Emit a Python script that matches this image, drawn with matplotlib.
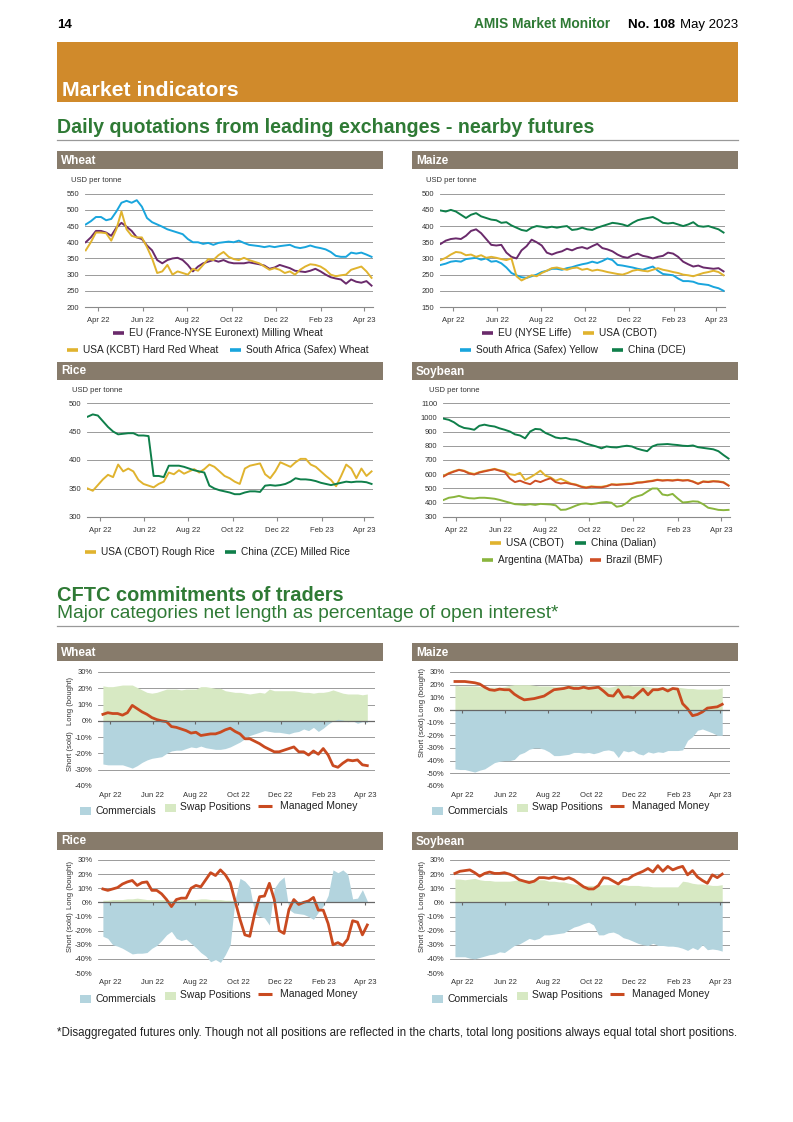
import numpy as np
import pandas as pd
import matplotlib
matplotlib.use('Agg')
from matplotlib import pyplot as plt
from matplotlib.patches import Rectangle
from matplotlib.lines import Line2D

plt.rcParams['font.family'] = ['Liberation Sans', 'DejaVu Sans']

# ---- daily quotations, USD per tonne
price_dates = pd.date_range('2022-03-15', periods=57, freq='7D')

wheat_eu = [400, 415, 435, 435, 430, 420, 445, 460, 448, 435, 415, 410, 390, 375, 345, 335, 345, 350, 352, 345,
            330, 310, 325, 335, 340, 345, 340, 345, 338, 335, 335, 335, 338, 335, 332, 328, 318, 322, 330, 325,
            320, 312, 310, 308, 312, 318, 310, 300, 292, 288, 285, 272, 285, 278, 275, 280, 266]
wheat_usa = [375, 400, 430, 430, 428, 405, 440, 495, 440, 420, 415, 415, 385, 350, 305, 310, 330, 300, 310, 305,
             300, 318, 312, 330, 348, 345, 360, 370, 355, 348, 345, 352, 345, 340, 335, 325, 315, 320, 315, 305,
             310, 300, 315, 325, 332, 330, 325, 315, 300, 295, 298, 300, 315, 320, 325, 310, 290]
wheat_sa = [455, 465, 478, 478, 468, 472, 495, 522, 528, 522, 530, 510, 475, 462, 455, 448, 440, 435, 430, 425,
            410, 400, 400, 395, 398, 392, 398, 400, 402, 400, 405, 398, 392, 390, 388, 385, 388, 385, 388, 390,
            392, 385, 382, 385, 390, 385, 382, 378, 370, 358, 355, 355, 368, 365, 368, 362, 355]

maize_eu = [345, 355, 360, 362, 360, 370, 385, 390, 378, 360, 342, 340, 342, 318, 305, 300, 325, 338, 358, 350,
            340, 318, 312, 318, 322, 330, 325, 332, 335, 330, 338, 345, 332, 328, 322, 312, 305, 302, 310, 315,
            308, 305, 300, 305, 308, 318, 315, 305, 290, 282, 275, 278, 272, 270, 268, 270, 260]
maize_usa = [295, 302, 312, 320, 318, 310, 312, 305, 310, 302, 305, 302, 298, 295, 300, 245, 232, 240, 248, 245,
             255, 262, 270, 272, 268, 265, 270, 272, 265, 268, 262, 265, 262, 258, 255, 252, 250, 255, 262, 265,
             262, 260, 265, 270, 265, 262, 258, 255, 250, 248, 245, 250, 255, 258, 262, 258, 248]
maize_sa = [280, 284, 290, 292, 290, 298, 300, 302, 296, 300, 290, 292, 285, 272, 255, 248, 242, 240, 245, 250,
            258, 262, 268, 268, 265, 270, 273, 278, 282, 285, 290, 286, 292, 300, 295, 280, 278, 275, 272, 268,
            265, 270, 275, 262, 252, 250, 248, 238, 230, 230, 228, 222, 220, 218, 212, 208, 200]
maize_cn = [448, 445, 450, 445, 435, 425, 435, 440, 430, 425, 420, 418, 410, 412, 402, 395, 388, 385, 395, 400,
            398, 395, 398, 395, 398, 400, 388, 390, 395, 390, 388, 395, 400, 405, 410, 408, 405, 400, 410, 418,
            422, 425, 428, 420, 410, 408, 410, 405, 400, 405, 412, 400, 398, 400, 395, 390, 380]

rice_usa = [350, 346, 356, 366, 374, 370, 392, 380, 385, 380, 365, 358, 355, 352, 358, 362, 378, 375, 382, 376,
            380, 384, 378, 384, 392, 388, 380, 372, 368, 362, 358, 385, 390, 392, 394, 375, 368, 380, 396, 392,
            388, 396, 402, 402, 392, 388, 380, 372, 365, 354, 372, 392, 385, 368, 385, 372, 380]
rice_cn = [476, 480, 478, 468, 458, 450, 445, 446, 447, 447, 443, 443, 442, 372, 372, 370, 390, 390, 390, 388,
           385, 382, 380, 378, 355, 350, 347, 345, 343, 340, 340, 343, 345, 345, 344, 355, 356, 355, 356, 358,
           362, 368, 366, 366, 365, 363, 360, 358, 356, 358, 360, 362, 361, 362, 362, 361, 358]

soy_usa = [590, 608, 622, 632, 625, 610, 602, 615, 624, 630, 638, 628, 620, 600, 595, 610, 560, 578, 600, 625,
           590, 578, 555, 568, 552, 535, 528, 515, 508, 515, 512, 512, 518, 530, 528, 530, 533, 535, 543, 545,
           550, 555, 562, 558, 560, 558, 562, 558, 560, 550, 535, 550, 548, 552, 550, 545, 522]
soy_cn = [990, 982, 965, 940, 925, 920, 912, 940, 948, 940, 935, 922, 912, 900, 880, 872, 852, 900, 918, 915,
          890, 875, 858, 852, 855, 845, 842, 830, 815, 805, 795, 782, 795, 790, 788, 795, 800, 795, 780, 770,
          762, 795, 808, 810, 812, 808, 805, 800, 798, 802, 790, 785, 780, 775, 762, 735, 710]
soy_ar = [420, 435, 440, 448, 438, 432, 430, 435, 435, 432, 428, 420, 410, 400, 390, 388, 385, 390, 385, 392,
          390, 388, 382, 350, 352, 365, 380, 392, 395, 390, 395, 402, 405, 400, 372, 378, 400, 432, 445, 455,
          478, 500, 500, 458, 452, 462, 430, 402, 405, 410, 408, 390, 365, 358, 350, 348, 350]
soy_br = [585, 605, 618, 630, 622, 605, 598, 612, 620, 628, 635, 625, 615, 570, 545, 555, 540, 530, 555, 545,
          560, 572, 545, 535, 540, 532, 525, 512, 505, 512, 510, 508, 515, 528, 525, 528, 530, 532, 540, 542,
          548, 552, 560, 555, 558, 555, 560, 555, 558, 548, 532, 548, 545, 550, 548, 542, 520]

# ---- CFTC net length, % of open interest (weekly)
cot_dates = pd.date_range('2022-03-22', periods=55, freq='7D')

wheat_comm = [-26.5, -27, -27, -27, -27, -28, -29, -27.5, -25.5, -24, -23, -22.5, -22, -20, -18.5, -18, -18, -17,
              -16, -16.5, -15.5, -16.5, -17, -17.5, -17.5, -17, -16, -14.5, -13, -11, -9, -8, -7, -6, -6.5, -7,
              -7, -7.5, -8, -7, -6.5, -5, -6, -4, -6.5, -4.5, -2, 0, 1, 0.5, -0.5, 0, -1.5, -0.5, -1]
wheat_swap = [21.5, 21, 21, 21.5, 22, 22, 22, 20.5, 19, 17.5, 17, 17.5, 18.5, 19.5, 19.5, 19.5, 19, 19.5, 19.5,
              19.5, 21, 21, 20.5, 20, 20, 18.5, 18, 17.5, 17.5, 17, 16.5, 17, 17.5, 17, 19.5, 18.5, 18.5, 18.5,
              18.5, 18.5, 18, 17.5, 17.5, 17, 17.5, 17.5, 18, 19, 18, 17, 16.5, 16.5, 16.5, 16, 16.5]
wheat_mm = [4, 5, 4.5, 4.5, 3.5, 5, 9.5, 7.5, 5.5, 4, 2, 0.8, 0, -0.5, -3.5, -4, -5, -6, -7.5, -7, -9, -8.5, -8,
            -8, -7, -5.5, -4.5, -6.5, -8, -11, -11, -12.5, -14, -16, -17.5, -19, -19, -18, -17, -16, -19, -19,
            -21, -18.5, -20.5, -17, -21, -27.5, -28.5, -26, -24, -24.5, -24, -27, -27.5]

maize_comm = [-46.5, -47, -47, -48, -49, -47.5, -46.5, -44, -41.5, -40.5, -40, -40, -39, -35, -33.5, -31, -30, -30,
              -31, -33, -36, -36, -35.5, -35, -33.5, -33.5, -34, -33.5, -34.5, -33.5, -32, -31.5, -32.5, -37.5,
              -32, -33, -32, -34.5, -35.5, -33, -34, -33, -33.5, -32, -32, -32, -31.5, -24, -21, -16, -15, -16.5,
              -18, -20, -20]
maize_swap = [19.5, 19, 19, 19, 19, 18.5, 18, 18, 18, 18, 18.5, 19.5, 20, 20, 20, 20, 19.5, 19, 19, 19, 18.5,
              18.5, 19, 19.5, 19.5, 19, 19, 19, 19, 19, 18.5, 18, 18.5, 19.5, 19.5, 19.5, 19, 19, 19, 18.5, 18,
              18, 18, 18, 18, 18, 17.5, 17, 17, 16.5, 16.5, 16.5, 16.5, 16.5, 17.5]
maize_mm = [22.5, 22.5, 22.5, 22, 21.5, 20.5, 18, 16, 15.5, 16.5, 16, 16, 12.5, 10, 8, 8.5, 9, 10, 11, 13.5, 16,
            16.5, 17, 18, 17, 17, 18, 17, 17.5, 18, 15, 11.5, 11, 16, 10, 10.5, 9.5, 13, 16.5, 12, 16, 16, 17,
            15, 17, 16.5, 5, 1, -4.5, -3.5, -1.5, 1.5, 2, 2.5, 4.5]

rice_comm = [-24, -25.5, -30, -31, -32.5, -34.5, -36.5, -36, -36, -35.5, -32.5, -30.5, -27, -23, -20.5, -25.5,
             -27, -26, -29, -32, -35.5, -38, -42, -40.5, -42.5, -37, -30, 2, 17, 15, 11, -8, -10, -11, -16, 10,
             15, 18, -5, -7.5, -8, -8.5, -10, -12, -7, -2.5, 5, 23, 21, 23, 20, 2.5, 3, 9, 1]
rice_swap = [1.5, 1.5, 2, 2, 2, 2.5, 2.5, 3, 2.5, 2, 2, 2, 2, 2, 1.5, 1.5, 2, 2, 2, 2, 2.5, 2.5, 2, 2, 2, 1.5,
             1.5, 1, 0.5, 0.5, 0.5, 0.5, 0.5, 0.5, 0.5, 0.5, 0.5, 0.5, 0.5, 0.5, 0.5, 0.5, 0.5, 0.5, 0.5, 0.5,
             0.5, 0.5, 0.5, 0.5, 0.5, 0.5, 0.5, 0.5, 0.5]
rice_mm = [9.5, 8.5, 9.5, 10.5, 13, 14.5, 15.5, 12, 14, 14.5, 8.5, 8.5, 6, 2, -3, 2, 3, 3, 10, 12, 11, 16, 21,
           19, 23, 19.5, 14, 1, -12, -23, -24, -8, 4, 4.5, 13.5, 2, -20, -22, -5, 2, -1.5, 0, 1, 3.5, -5.5,
           -5.5, -15, -30, -28.5, -30.5, -26, -13, -14, -23, -16]

soy_comm = [-38.5, -38.5, -38.5, -39.5, -40, -39, -38, -37, -36.5, -35, -35.5, -33, -30.5, -29.5, -27.5, -25.5,
            -26.5, -25.5, -23, -23, -22.5, -22, -21.5, -19.5, -17.5, -16.5, -15, -14, -16, -23, -23, -21.5, -21,
            -22.5, -25, -26, -27.5, -29, -30, -30.5, -29, -30.5, -30.5, -31, -31, -31.5, -32.5, -34, -32, -33.5,
            -30, -33.5, -33, -33.5, -34.5]
soy_swap = [16.5, 16.5, 16, 16.5, 17, 16, 15.5, 15.5, 15, 15, 15, 15, 15.5, 16, 16, 16, 16, 16, 16, 15, 15, 14.5,
            14.5, 13.5, 13, 12.5, 12, 12, 12, 12, 12.5, 12.5, 12.5, 12.5, 12.5, 12, 12, 12, 11.5, 11.5, 11, 11,
            11, 11, 11, 11, 15, 14.5, 13.5, 13, 13, 12.5, 12, 12, 12.5]
soy_mm = [20.5, 22, 22.5, 23, 21, 18.5, 20.5, 21.5, 20.5, 20.5, 21, 20, 18.5, 16, 15, 14, 15, 17.5, 17.5, 17, 18,
          17, 16.5, 17.5, 16, 13.5, 11, 9.5, 9.5, 12, 17.5, 17, 15, 13, 16, 16.5, 19, 20.5, 22, 24, 21.5, 26,
          22, 25.5, 23, 24.5, 25.5, 19.5, 22.5, 18, 15.5, 13.5, 19.5, 17.5, 20]

month_ticks = pd.to_datetime(['2022-04-01', '2022-06-01', '2022-08-01', '2022-10-01',
                              '2022-12-01', '2023-02-01', '2023-04-01'])
month_labels = ['Apr 22', 'Jun 22', 'Aug 22', 'Oct 22', 'Dec 22', 'Feb 23', 'Apr 23']

# colours
ORANGE = '#d08a2b'
BAR = '#877b6b'
GREEN_TXT = '#2f7a35'
PURPLE = '#6a2a6b'
YELLOW = '#e0b32e'
BLUE = '#19a5dd'
DKGREEN = '#0f7f4a'
LTGREEN = '#8ab53e'
RED = '#cf4f26'
COMM = '#b3d4de'
SWAP = '#d7e9c3'
MM = '#c94a20'
GRID = '#8a8a8a'
TXT = '#333333'

W, H = 793, 1122
fig = plt.figure(figsize=(W / 100, H / 100), dpi=100)


def add_ax(x0, y0, x1, y1):
    return fig.add_axes([x0 / W, 1 - y1 / H, (x1 - x0) / W, (y1 - y0) / H])


def ftext(x, y, s, **kw):
    fig.text(x / W, 1 - y / H, s, **kw)


def rect(x0, y0, x1, y1, color):
    fig.patches.append(Rectangle((x0 / W, 1 - y1 / H), (x1 - x0) / W, (y1 - y0) / H,
                                 transform=fig.transFigure, color=color, lw=0))


def hline(x0, x1, y, color, lw):
    fig.add_artist(Line2D([x0 / W, x1 / W], [1 - y / H, 1 - y / H], color=color, lw=lw,
                          transform=fig.transFigure))


def header_bar(x0, y0, x1, y1, label):
    rect(x0, y0, x1, y1, BAR)
    ftext(x0 + 4, (y0 + y1) / 2 + 0.5, label, color='white', fontsize=8.5, fontweight='bold', va='center')


def leg_line(x, y, color, label, lw=2.6, length=11, gap=16, size=7.3):
    fig.add_artist(Line2D([x / W, (x + length) / W], [1 - y / H] * 2, color=color, lw=lw,
                          transform=fig.transFigure, solid_capstyle='butt'))
    ftext(x + gap, y, label, fontsize=size, va='center', color='#222222')


def leg_patch(x, y, color, label):
    rect(x, y - 3, x + 11, y + 5, color)
    ftext(x + 15, y + 0.5, label, fontsize=7.5, va='center', color='#222222')


def price_axes(box, ylim, yticks, series, unit_xy):
    ax = add_ax(*box)
    for vals, color in series:
        ax.plot(price_dates, vals, color=color, lw=1.4)
    ax.set_ylim(*ylim)
    ax.set_yticks(yticks)
    ax.set_xlim(pd.Timestamp('2022-03-14'), pd.Timestamp('2023-04-13'))
    ax.grid(axis='y', color=GRID, lw=0.6)
    ax.set_axisbelow(True)
    for s in ['top', 'right', 'left']:
        ax.spines[s].set_visible(False)
    ax.spines['bottom'].set_color(GRID)
    ax.spines['bottom'].set_linewidth(0.8)
    ax.set_xticks(month_ticks)
    ax.set_xticklabels(month_labels)
    ax.tick_params(axis='x', length=3, color=GRID, labelsize=5.5, pad=4, labelcolor=TXT)
    ax.tick_params(axis='y', length=0, labelsize=5.5, pad=4, labelcolor=TXT)
    ftext(unit_xy[0], unit_xy[1], 'USD per tonne', fontsize=5.5, va='center', color=TXT)
    return ax


def cot_axes(box, ylim, comm, swap, mm, lab_x, long_y, short_y):
    ax = add_ax(*box)
    ax.fill_between(cot_dates, 0, swap, color=SWAP, lw=0)
    ax.fill_between(cot_dates, 0, comm, color=COMM, lw=0)
    ax.plot(cot_dates, mm, color=MM, lw=2)
    ax.axhline(0, color='#666666', lw=0.9)
    k = (ylim[1] - ylim[0]) * 3.0 / (box[3] - box[1])
    ax.vlines(month_ticks, -k, 0, color='#666666', lw=0.8)
    yt = np.arange(ylim[0], ylim[1] + 1, 10)
    ax.set_ylim(*ylim)
    ax.set_yticks(yt)
    ax.set_yticklabels([f'{v}%' for v in yt])
    ax.set_xlim(pd.Timestamp('2022-03-15'), pd.Timestamp('2023-04-15'))
    ax.grid(axis='y', color=GRID, lw=0.6)
    ax.set_axisbelow(True)
    for s in ['top', 'right', 'left', 'bottom']:
        ax.spines[s].set_visible(False)
    ax.set_xticks(month_ticks)
    ax.set_xticklabels(month_labels)
    ax.tick_params(axis='x', length=0, labelsize=5.5, pad=4, labelcolor=TXT)
    ax.tick_params(axis='y', length=0, labelsize=5.5, pad=4, labelcolor=TXT)
    ftext(lab_x, long_y, 'Long (bought)', fontsize=5.5, rotation=90, va='center', ha='center', color=TXT)
    ftext(lab_x, short_y, 'Short (sold)', fontsize=5.5, rotation=90, va='center', ha='center', color=TXT)
    return ax


# ---- page header
ftext(57, 28, '14', fontsize=9.5, fontweight='bold', va='baseline')
ftext(610, 28, 'AMIS Market Monitor', fontsize=9.9, fontweight='bold', color=GREEN_TXT, va='baseline', ha='right')
ftext(628, 28, 'No. 108', fontsize=9.5, fontweight='bold', va='baseline')
ftext(738, 28, 'May 2023', fontsize=9.5, va='baseline', ha='right')
rect(57, 42, 738, 102, ORANGE)
ftext(62, 96, 'Market indicators', fontsize=15.3, fontweight='bold', color='white', va='baseline')
ftext(57, 133, 'Daily quotations from leading exchanges - nearby futures', fontsize=14.1,
      fontweight='bold', color=GREEN_TXT, va='baseline')
hline(57, 738, 140, '#999999', 0.9)

# ---- price panels
header_bar(57, 151, 383, 169, 'Wheat')
price_axes((85, 193.7, 373, 307), (200, 550), range(200, 551, 50),
           [(wheat_sa, BLUE), (wheat_eu, PURPLE), (wheat_usa, YELLOW)], (71, 180))
leg_line(113, 333, PURPLE, 'EU (France-NYSE Euronext) Milling Wheat')
leg_line(67, 350, YELLOW, 'USA (KCBT) Hard Red Wheat')
leg_line(230, 350, BLUE, 'South Africa (Safex) Wheat')

header_bar(412, 151, 738, 169, 'Maize')
price_axes((440, 193.7, 725, 307), (150, 500), range(150, 501, 50),
           [(maize_cn, DKGREEN), (maize_eu, PURPLE), (maize_sa, BLUE), (maize_usa, YELLOW)], (426, 180))
leg_line(482, 333, PURPLE, 'EU (NYSE Liffe)')
leg_line(583, 333, YELLOW, 'USA (CBOT)')
leg_line(460, 350, BLUE, 'South Africa (Safex) Yellow')
leg_line(612, 350, DKGREEN, 'China (DCE)')

header_bar(57, 362, 383, 380, 'Rice')
price_axes((87, 403, 373, 517), (300, 500), range(300, 501, 50),
           [(rice_usa, YELLOW), (rice_cn, DKGREEN)], (72, 390))
leg_line(85, 552, YELLOW, 'USA (CBOT) Rough Rice')
leg_line(225, 552, DKGREEN, 'China (ZCE) Milled Rice')

header_bar(412, 362, 738, 380, 'Soybean')
price_axes((443, 403, 730, 517), (300, 1100), range(300, 1101, 100),
           [(soy_cn, DKGREEN), (soy_ar, LTGREEN), (soy_usa, YELLOW), (soy_br, RED)], (429, 390))
leg_line(490, 543, YELLOW, 'USA (CBOT)')
leg_line(575, 543, DKGREEN, 'China (Dalian)')
leg_line(482, 560, LTGREEN, 'Argentina (MATba)')
leg_line(590, 560, RED, 'Brazil (BMF)')

# ---- CFTC section
ftext(57, 601, 'CFTC commitments of traders', fontsize=14.4, fontweight='bold', color=GREEN_TXT, va='baseline')
ftext(57, 618, 'Major categories net length as percentage of open interest*', fontsize=13.8,
      color=GREEN_TXT, va='baseline')
hline(57, 738, 626, '#999999', 0.9)

header_bar(57, 643, 383, 661, 'Wheat')
cot_axes((98, 672, 375, 786), (-40, 30), wheat_comm, wheat_swap, wheat_mm, 70, 701, 751)
header_bar(412, 643, 738, 661, 'Maize')
cot_axes((450, 672, 730, 786), (-60, 30), maize_comm, maize_swap, maize_mm, 422, 692, 737)
header_bar(57, 832, 383, 850, 'Rice')
cot_axes((98, 860, 375, 973), (-50, 30), rice_comm, rice_swap, rice_mm, 70, 885, 932)
header_bar(412, 832, 738, 850, 'Soybean')
cot_axes((450, 860, 730, 973), (-50, 30), soy_comm, soy_swap, soy_mm, 422, 885, 932)

for lx, ly in [(80, 808), (432, 808), (80, 996), (432, 996)]:
    leg_patch(lx, ly + 2, COMM, 'Commercials')
    leg_patch(lx + 85, ly - 1, SWAP, 'Swap Positions')
    leg_line(lx + 178, ly - 2, MM, 'Managed Money', lw=2.2, length=14, gap=22, size=7.5)

ftext(57, 1036, '*Disaggregated futures only. Though not all positions are reflected in the charts, '
      'total long positions always equal total short positions.', fontsize=8.3, va='baseline', color='#222222')

fig.savefig('out.png', dpi=100)
